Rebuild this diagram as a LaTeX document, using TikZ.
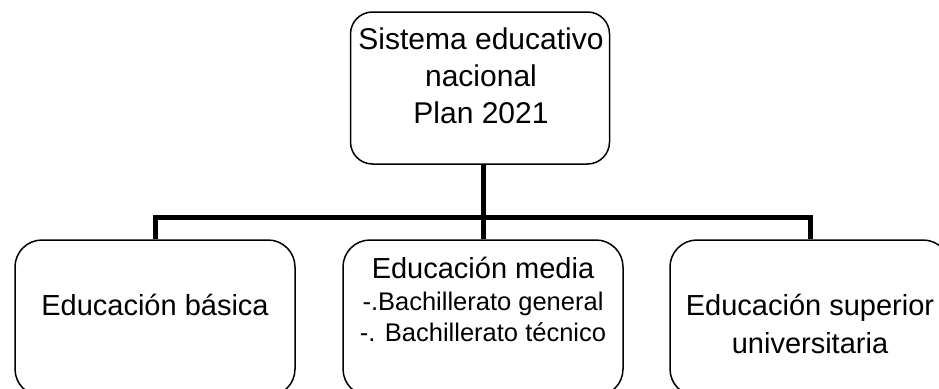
\documentclass[tikz,border=0pt]{standalone}
\usepackage{fontspec}
\setmainfont{Liberation Sans}
\begin{document}
\begin{tikzpicture}[x=1pt,y=-1pt,
  box/.style={draw=black, line width=1.5pt, rounded corners=27pt, inner sep=0pt,
              minimum width=280pt, minimum height=156pt},
  conn/.style={draw=black, line width=5pt, line join=miter},
  txt/.style={inner sep=0pt, align=center, anchor=north},
  big/.style={txt, font=\fontsize{29pt}{38pt}\selectfont},
  small/.style={txt, font=\fontsize{25.5pt}{31pt}\selectfont},
]
\useasboundingbox (0,0) rectangle (939,388);
\clip (0,0) rectangle (939,388);

% boxes
\node[box, minimum width=259pt, minimum height=152pt, rounded corners=22pt] (top) at (480,88) {};
\node[box] (basica) at (155,318) {};
\node[box] (media) at (483,318) {};
\node[box] (superior) at (810,318) {};

% texts
\node[txt, font=\fontsize{30pt}{37pt}\selectfont] (toptext) at (481,28)
  {Sistema educativo\\nacional\\Plan 2021};
\node[big] (basicatext) at (155,294) {Educación básica};
\node[big] (mediatext) at (483,257) {Educación media};
\node[small] (mediasub) at (483,292) {-.Bachillerato general\\-. Bachillerato técnico};
\node[big] (superiortext) at (810,294) {Educación superior\\universitaria};

% connectors
\coordinate (j) at (483,217.5);
\draw[conn] (j |- top.south) -- (j);
\draw[conn] (basica.north) |- (j) -| (superior.north);
\draw[conn] (j) -- (media.north);
\end{tikzpicture}
\end{document}
